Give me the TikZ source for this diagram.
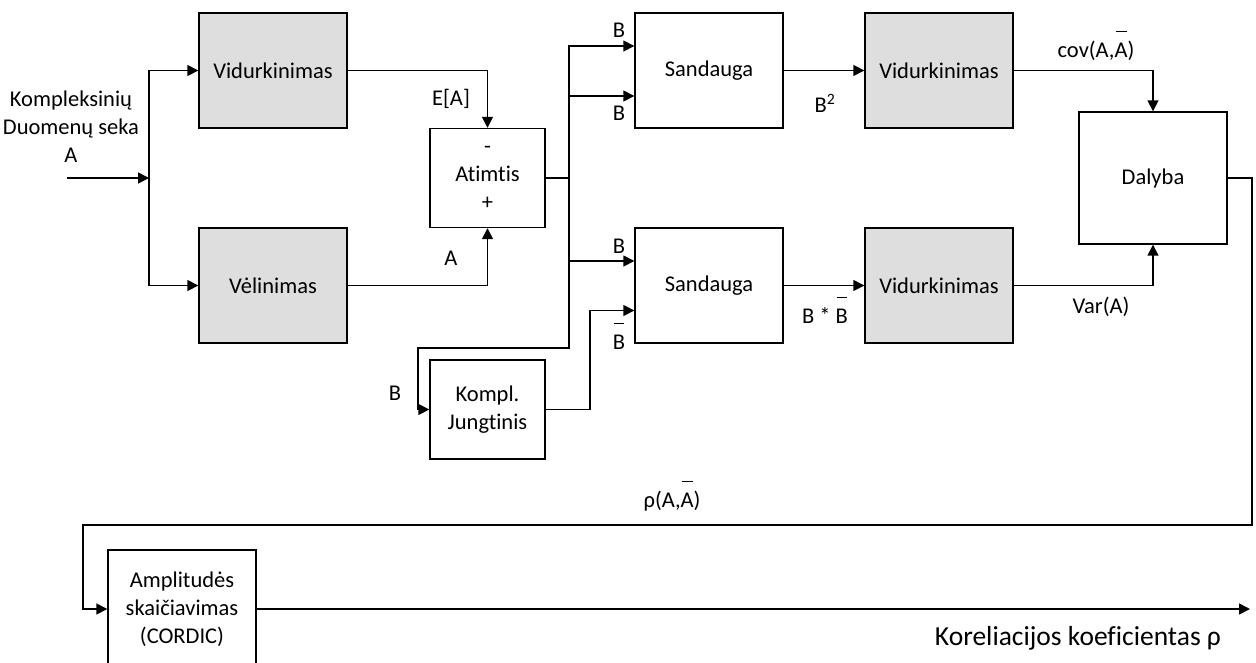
\documentclass[tikz,border=0pt]{standalone}
\usepackage{fontspec}
\setmainfont{Carlito}[Ligatures={NoCommon}]
\usetikzlibrary{arrows.meta}
\newcommand\fs{\fontsize{22.5}{28}\selectfont}
\newcommand\fsbig{\fontsize{27.5}{32}\selectfont}
% letter with a raised bar over it (complex conjugate)
\newcommand\ob[1]{\setbox0\hbox{#1}\rlap{\hbox to \wd0{\hss\raisebox{1.1em}{\rule{0.85\wd0}{1.4pt}}\hss}}\box0}
\begin{document}
\begin{tikzpicture}[x=1pt,y=-1pt,
  box/.style={draw, line width=1.4pt, minimum width=148pt, minimum height=115pt,
    align=center, inner sep=0pt, font=\fs},
  shaded/.style={box, fill=black!13},
  small/.style={box, minimum width=115pt, minimum height=99pt},
  lbl/.style={anchor=base, inner sep=0pt, font=\fs},
  wire/.style={line width=1.6pt},
  arr/.style={wire, -{Triangle[length=11pt,width=11pt]}}]
\useasboundingbox (0,0) rectangle (1256,662);
\clip (0,0) rectangle (1256,662);

% blocks
\node[shaded] (vid1) at (273,70.5) {Vidurkinimas};
\node[shaded] (vel)  at (273,285.5) {Vėlinimas};
\node[small]  (atim) at (487.5,178) {-\\Atimtis\\+};
\node[small]  (kompl) at (487.5,409.5) {Kompl.\\Jungtinis};
\node[box]    (sand1) at (709,70.5) {Sandauga};
\node[box]    (sand2) at (709,285.5) {Sandauga};
\node[shaded] (vid2) at (939,70.5) {Vidurkinimas};
\node[shaded] (vid3) at (939,285.5) {Vidurkinimas};
\node[box, minimum height=132pt] (dal) at (1153,178) {Dalyba};
\node[box, minimum height=118pt] (ampl) at (182,609) {Amplitudės\\skaičiavimas\\(CORDIC)};

% junctions and bends
\coordinate (in) at (67,178);
\coordinate (j1) at (149,178);
\coordinate (j2) at (569,178);
\coordinate (b2) at (418,348);
\coordinate (c1) at (590,310.5);
\coordinate (r1) at (1252,525);
\coordinate (l1) at (83,525);
\coordinate (out) at (1250,609);

% input split
\draw[arr] (in) -- (j1);
\draw[arr] (j1) |- (vid1.west);
\draw[arr] (j1) |- (vel.west);

% subtraction
\draw[arr] (vid1.east) -| (atim.north);
\draw[arr] (vel.east) -| (atim.south);
\draw[wire, line width=2.2pt] (atim.east) -- (j2);

% distribution of B
\draw[arr] (j2) |- ([yshift=24.5pt]sand1.west);
\draw[arr] (j2) |- ([yshift=-25.5pt]sand1.west);
\draw[arr] (j2) |- ([yshift=24.5pt]sand2.west);
\draw[arr] (j2) |- (b2) |- (kompl.west);
\draw[arr] (kompl.east) -| (c1) -- ([yshift=-25pt]sand2.west);

% averaging and division
\draw[arr] (sand1.east) -- (vid2.west);
\draw[arr] (sand2.east) -- (vid3.west);
\draw[arr] (vid2.east) -| (dal.north);
\draw[arr] (vid3.east) -| (dal.south);

% feedback to amplitude block and output
\draw[arr] (dal.east) -| (r1) -- (l1) |- (ampl.west);
\draw[arr] (ampl.east) -- (out);

% labels
\node[lbl, align=center] (inlbl) at (71,162) {Kompleksinių\\Duomenų seka\\A};
\node[lbl] (ea) at (451,105) {E[A]};
\node[lbl] (alb) at (451,265) {A};
\node[lbl] (b1) at (619,37) {B};
\node[lbl] (b2l) at (619,120) {B};
\node[lbl] (b3) at (619,253) {B};
\node[lbl] (b4) at (619,349) {\ob{B}};
\node[lbl] (b5) at (395,400) {B};
\node[lbl] (bsq) at (825,112) {B\textsuperscript{2}};
\node[lbl] (bbb) at (825,323) {B * \ob{B}};
\node[lbl] (cov) at (1096,57) {cov(A,\ob{A})};
\node[lbl] (var) at (1101,313) {Var(A)};
\node[lbl] (rho) at (672,507) {ρ(A,\ob{A})};
\node[lbl, font=\fsbig] (kor) at (1078,645) {Koreliacijos koeficientas ρ};
\end{tikzpicture}
\end{document}
